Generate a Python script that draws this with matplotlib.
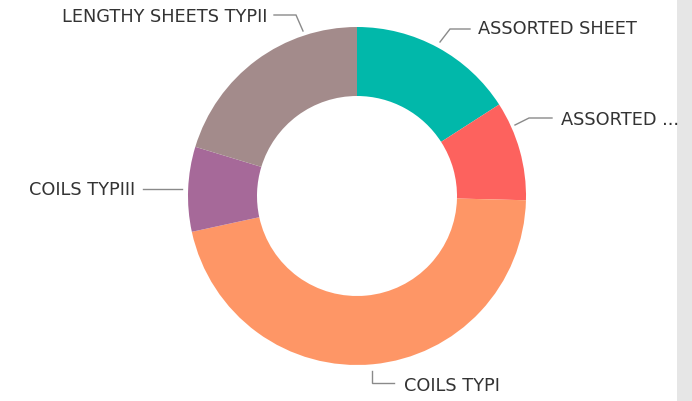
import matplotlib
matplotlib.use("Agg")
import matplotlib.pyplot as plt
from matplotlib.patches import Rectangle

categories = ["ASSORTED SHEET", "ASSORTED ...", "COILS TYPI", "COILS TYPIII", "LENGTHY SHEETS TYPII"]
values = [15.9, 9.5, 46.2, 8.1, 20.3]
colors = ["#01B8AA", "#FD625E", "#FE9666", "#A66999", "#A38B8B"]

W, H = 692, 401
fig = plt.figure(figsize=(W / 100, H / 100), dpi=100)
fig.patch.set_facecolor("white")
ax = fig.add_axes([0, 0, 1, 1])
ax.set_xlim(0, W)
ax.set_ylim(0, H)
ax.set_aspect("equal")
ax.axis("off")

# right grey strip
ax.add_patch(Rectangle((677, 0), W - 677, H, color="#E6E6E6", lw=0, zorder=0))

cx, cy = 357, H - 196
R = 169
ax.pie(values, colors=colors, startangle=90, counterclock=False,
       center=(cx, cy), radius=R,
       wedgeprops=dict(width=R - 100, edgecolor="none", linewidth=0))
ax.set_xlim(0, W)
ax.set_ylim(0, H)

txt_color = "#333333"
line_color = "#8A8A8A"
fs = 12.8

# label layout: (text x, text y (image coords), ha, leader polyline in image coords)
layout = {
    "ASSORTED SHEET": (478, 29, "left", [(440, 42), (450, 29), (470, 29)]),
    "ASSORTED ...": (561, 120, "left", [(515, 125), (529, 118), (552, 118)]),
    "COILS TYPI": (404, 386, "left", [(372, 371), (372, 383), (394, 383)]),
    "COILS TYPIII": (135, 190, "right", [(182, 189), (143, 189)]),
    "LENGTHY SHEETS TYPII": (267, 17, "right", [(303, 31), (296, 15), (274, 15)]),
}

for cat in categories:
    tx, ty, ha, pts = layout[cat]
    ax.text(tx, H - ty, cat, ha=ha, va="center", fontsize=fs, color=txt_color,
            family="DejaVu Sans")
    xs = [p[0] for p in pts]
    ys = [H - p[1] for p in pts]
    ax.plot(xs, ys, color=line_color, lw=1.0, solid_joinstyle="miter")

fig.savefig("out.png", dpi=100, facecolor="white")
